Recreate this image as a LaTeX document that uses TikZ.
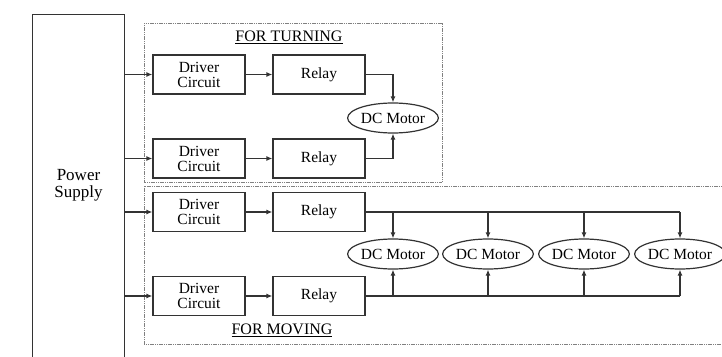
\documentclass[tikz,border=0pt]{standalone}
\usepackage{fontspec}
\setmainfont{Liberation Serif}
\usetikzlibrary{arrows.meta,shapes.geometric}
\begin{document}
\begin{tikzpicture}[x=1pt,y=-1pt,
  line width=1.2pt,
  box/.style={draw=black!80,minimum width=92pt,minimum height=39pt,inner sep=0pt,
    font=\fontsize{15.5}{15}\selectfont,align=center},
  motor/.style={draw=black!80,ellipse,minimum width=87pt,minimum height=30pt,inner sep=0pt,
    font=\fontsize{15.5}{15}\selectfont},
  group/.style={draw=black!50,line width=1pt,dash pattern=on 1.2pt off 0.6pt},
  arr/.style={draw=black!80,-{Latex[length=6pt,width=5pt]}},
  wire/.style={draw=black!80},
  title/.style={font=\fontsize{16}{16}\selectfont}]
\useasboundingbox[fill=white] (0,0) rectangle (722,356);
% groups
\draw[group] (144,23) rectangle (442,182);
\draw[group] (722,186) -- (144,186) -- (144,344) -- (722,344);
\node[title] (tt) at (289,37) {\underline{FOR TURNING}};
\node[title] (tm) at (282,330) {\underline{FOR MOVING}};
% power supply
\node[minimum width=91pt,minimum height=341pt,inner sep=0pt,align=center,
  font=\fontsize{17}{16.5}\selectfont] (ps) at (78.5,185.5) {Power\\Supply};
\draw[wire] (ps.south west) -- (ps.north west) -- (ps.north east) -- (ps.south east);
% turning
\node[box] (dt1) at (199,74.5) {Driver\\Circuit};
\node[box] (rt1) at (319,74.5) {Relay};
\node[box] (dt2) at (199,158.5) {Driver\\Circuit};
\node[box] (rt2) at (319,158.5) {Relay};
\node[motor] (mt) at (393,118) {DC Motor};
% moving
\node[box] (dm1) at (199,212) {Driver\\Circuit};
\node[box] (rm1) at (319,212) {Relay};
\node[box] (dm2) at (199,296) {Driver\\Circuit};
\node[box] (rm2) at (319,296) {Relay};
\node[motor] (m1) at (393,254) {DC Motor};
\node[motor] (m2) at (488,254) {DC Motor};
\node[motor] (m3) at (584,254) {DC Motor};
\node[motor] (m4) at (680,254) {DC Motor};
% connectors
\foreach \d/\r in {dt1/rt1,dt2/rt2,dm1/rm1,dm2/rm2}{
  \draw[arr] (ps.east |- \d.west) -- (\d.west);
  \draw[arr] (\d.east) -- (\r.west);
}
\draw[arr] (rt1.east) -| (mt.north);
\draw[arr] (rt2.east) -| (mt.south);
\draw[wire] (rm1.east) -- (m4.north |- rm1.east);
\draw[wire] (rm2.east) -- (m4.south |- rm2.east);
\foreach \m in {m1,m2,m3,m4}{
  \draw[arr] (\m.north |- rm1.east) -- (\m.north);
  \draw[arr] (\m.south |- rm2.east) -- (\m.south);
}
\end{tikzpicture}
\end{document}
